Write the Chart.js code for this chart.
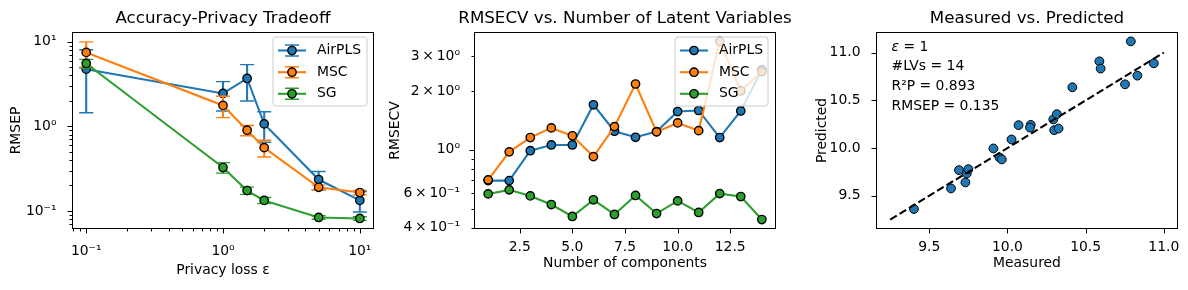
<!DOCTYPE html>
<html>
<head>
<meta charset="utf-8">
<script src="https://cdn.jsdelivr.net/npm/chart.js@4/dist/chart.umd.min.js"></script>
<style>
  body { margin: 0; background: #fff; }
  #wrap { position: relative; width: 1188px; height: 290px; }
  #wrap canvas { position: absolute; left: 0; top: 0; }
</style>
</head>
<body>
<div id="wrap">
  <canvas id="c1" width="1188" height="290"></canvas>
  <canvas id="c2" width="1188" height="290"></canvas>
  <canvas id="c3" width="1188" height="290"></canvas>
</div>
<script>
// ---- panel 1: accuracy / privacy ----
const epsilons = [0.1, 1, 1.5, 2, 5, 10];
const airplsRmsep = [4.75, 2.45, 3.69, 1.07, 0.235, 0.133];
const airplsErr   = [3.3, 0.93, 1.69, 0.42, 0.057, 0.036];
const mscRmsep    = [7.5, 1.77, 0.90, 0.56, 0.19, 0.165];
const mscErr      = [2.5, 0.5, 0.125, 0.125, 0.012, 0.01];
const sgRmsep     = [5.55, 0.326, 0.174, 0.133, 0.0836, 0.0813];
const sgErr       = [0.66, 0.046, 0.017, 0.011, 0.004, 0.004];

// ---- panel 2: RMSECV vs components ----
const components = [1, 2, 3, 4, 5, 6, 7, 8, 9, 10, 11, 12, 13, 14];
const airplsCv = [0.697, 0.697, 0.99, 1.06, 1.06, 1.70, 1.245, 1.16, 1.24, 1.57, 1.59, 1.156, 1.58, 2.57];
const mscCv    = [0.703, 0.977, 1.156, 1.295, 1.18, 0.924, 1.315, 2.17, 1.236, 1.373, 1.254, 3.58, 2.0, 2.51];
const sgCv     = [0.596, 0.625, 0.582, 0.526, 0.457, 0.556, 0.468, 0.585, 0.473, 0.549, 0.479, 0.598, 0.578, 0.441];

// ---- panel 3: measured vs predicted ----
const measured  = [9.402, 9.639, 9.690, 9.731, 9.740, 9.750, 9.910, 9.949, 9.964, 10.026, 10.071, 10.149,
                   10.144, 10.293, 10.316, 10.299, 10.327, 10.415, 10.588, 10.596, 10.752, 10.789, 10.831, 10.936];
const predicted = [9.361, 9.577, 9.769, 9.640, 9.734, 9.779, 9.996, 9.902, 9.881, 10.090, 10.240, 10.243,
                   10.215, 10.300, 10.355, 10.187, 10.205, 10.637, 10.909, 10.833, 10.668, 11.118, 10.759, 10.888];
const identityLine = [9.25, 11];
const statLines = ['#LVs = 14', 'R\u00b2P = 0.893', 'RMSEP = 0.135'];

// ---- tick labels ----
const p1XTicks = [0.1, 1, 10];
const p1XLabels = ['10\u207b\u00b9', '10\u2070', '10\u00b9'];
const p1YTicks = [0.1, 1, 10];
const p1YLabels = ['10\u207b\u00b9', '10\u2070', '10\u00b9'];
const p2XTicks = [2.5, 5, 7.5, 10, 12.5];
const p2XLabels = ['2.5', '5.0', '7.5', '10.0', '12.5'];
const p2YTicks = [0.4, 0.6, 1, 2, 3];
const p2YLabels = ['4\u2009\u00d7\u200910\u207b\u00b9', '6\u2009\u00d7\u200910\u207b\u00b9', '10\u2070',
                   '2\u2009\u00d7\u200910\u2070', '3\u2009\u00d7\u200910\u2070'];
const p3XTicks = [9.5, 10, 10.5, 11];
const p3XLabels = ['9.5', '10.0', '10.5', '11.0'];
const p3YTicks = [9.5, 10, 10.5, 11];
const p3YLabels = ['9.5', '10.0', '10.5', '11.0'];

const FONT = "'DejaVu Sans', sans-serif";
const BLUE = '#1f77b4', ORANGE = '#ff7f0e', GREEN = '#2ca02c';
Chart.defaults.font.family = FONT;
Chart.defaults.color = '#000';

// log minor tick positions (2..9 x 10^k) inside a range
function logMinors(min, max) {
  const out = [];
  for (let k = -3; k <= 3; k++) for (let m = 2; m <= 9; m++) {
    const v = m * Math.pow(10, k);
    if (v >= min && v <= max) out.push(v);
  }
  return out;
}

const pts = (xs, ys) => xs.map((x, i) => ({x, y: ys[i]}));

function axis(type, min, max, ticks, labels, isX, size, pad, title, titlePad) {
  return {
    type, min, max,
    grid: {display: false}, border: {display: false},
    afterBuildTicks: s => { s.ticks = ticks.map(v => ({value: v})); },
    afterFit: s => { if (isX) s.height = size; else s.width = size; },
    ticks: {autoSkip: false, maxRotation: 0, padding: pad, color: '#000',
            font: {size: 13.9}, callback: (v, i) => labels[i]},
    title: {display: true, text: title, color: '#000', font: {size: 13.9}, padding: titlePad}
  };
}

function lineSet(label, data, color, order, err) {
  return {label, data, errorBars: err, borderColor: color, backgroundColor: color,
          pointBackgroundColor: color, pointBorderColor: '#000', pointBorderWidth: 1.4,
          pointRadius: 4.17, borderWidth: 2.08, tension: 0, order};
}

// frame, tick marks, error bars, titles, legends
const decor = {
  id: 'decor',
  beforeDatasetDraw(chart, args) {
    const ds = chart.data.datasets[args.index];
    if (!ds.errorBars) return;
    const ctx = chart.ctx, ys = chart.scales.y;
    ctx.save();
    ctx.strokeStyle = ds.borderColor;
    args.meta.data.forEach((pt, i) => {
      const v = ds.data[i].y, e = ds.errorBars[i];
      const y1 = ys.getPixelForValue(v + e), y2 = ys.getPixelForValue(v - e);
      ctx.lineWidth = 2.08;
      ctx.beginPath(); ctx.moveTo(pt.x, y1); ctx.lineTo(pt.x, y2); ctx.stroke();
      ctx.lineWidth = 1.4;
      ctx.beginPath();
      ctx.moveTo(pt.x - 7, y1); ctx.lineTo(pt.x + 7, y1);
      ctx.moveTo(pt.x - 7, y2); ctx.lineTo(pt.x + 7, y2);
      ctx.stroke();
    });
    ctx.restore();
  },
  afterDatasetsDraw(chart, args, o) {
    const {ctx, chartArea: a} = chart;
    const xs = chart.scales.x, ys = chart.scales.y;
    ctx.save();
    ctx.strokeStyle = '#000';
    ctx.lineWidth = 1;
    ctx.strokeRect(a.left, a.top, a.right - a.left, a.bottom - a.top);
    const tx = (vals, len) => {
      ctx.beginPath();
      vals.forEach(v => {
        const x = Math.round(xs.getPixelForValue(v)) + 0.5;
        ctx.moveTo(x, a.bottom); ctx.lineTo(x, a.bottom + len);
      });
      ctx.stroke();
    };
    const ty = (vals, len) => {
      ctx.beginPath();
      vals.forEach(v => {
        const y = Math.round(ys.getPixelForValue(v)) + 0.5;
        ctx.moveTo(a.left, y); ctx.lineTo(a.left - len, y);
      });
      ctx.stroke();
    };
    tx(o.xMajor, 5); tx(o.xMinor || [], 3);
    ty(o.yMajor, 5); ty(o.yMinor || [], 3);

    // title
    ctx.fillStyle = '#000';
    ctx.font = '16.7px ' + FONT;
    ctx.textAlign = 'center';
    ctx.textBaseline = 'middle';
    ctx.fillText(o.title, (a.left + a.right) / 2, 18.5);

    if (o.legend) drawLegend(chart, o.legend);
    if (o.notes) {
      ctx.textAlign = 'left';
      ctx.font = 'italic 13.9px ' + FONT;
      ctx.fillText('\u03b5', a.left + 15, a.top + 15);
      const w = ctx.measureText('\u03b5').width;
      ctx.font = '13.9px ' + FONT;
      ctx.fillText(' = 1', a.left + 15 + w, a.top + 15);
      const offs = [34, 53.5, 74];
      o.notes.forEach((t, i) => ctx.fillText(t, a.left + 15, a.top + offs[i]));
    }
    ctx.restore();
  }
};

function drawLegend(chart, L) {
  const ctx = chart.ctx;
  ctx.save();
  ctx.beginPath();
  ctx.roundRect(L.x + 0.5, L.y + 0.5, L.w, L.h, 3);
  ctx.fillStyle = 'rgba(255,255,255,0.8)';
  ctx.fill();
  ctx.strokeStyle = '#cccccc';
  ctx.lineWidth = 1;
  ctx.stroke();
  const rows = [L.y + 14, L.y + 35.7, L.y + 57.3];
  const x0 = L.x + 5.5, x1 = L.x + 33.5, mx = (x0 + x1) / 2;
  chart.data.datasets.filter(d => d.label).forEach((d, i) => {
    const y = rows[i];
    ctx.strokeStyle = d.borderColor;
    ctx.lineWidth = 2.08;
    ctx.beginPath(); ctx.moveTo(x0, y); ctx.lineTo(x1, y); ctx.stroke();
    if (L.errorBars) {
      ctx.beginPath(); ctx.moveTo(mx, y - 5.5); ctx.lineTo(mx, y + 5.5); ctx.stroke();
      ctx.lineWidth = 1.4;
      ctx.beginPath();
      ctx.moveTo(mx - 7, y - 5.5); ctx.lineTo(mx + 7, y - 5.5);
      ctx.moveTo(mx - 7, y + 5.5); ctx.lineTo(mx + 7, y + 5.5);
      ctx.stroke();
    }
    ctx.beginPath();
    ctx.arc(mx, y, 4.17, 0, Math.PI * 2);
    ctx.fillStyle = d.borderColor; ctx.fill();
    ctx.lineWidth = 1.4; ctx.strokeStyle = '#000'; ctx.stroke();
    ctx.fillStyle = '#000';
    ctx.font = '13.9px ' + FONT;
    ctx.textAlign = 'left';
    ctx.textBaseline = 'middle';
    ctx.fillText(d.label, x1 + 11, y);
  });
  ctx.restore();
}

const base = {responsive: false, animation: false, events: [],
              plugins: {legend: {display: false}, tooltip: {enabled: false}}};

// panel 1
new Chart(document.getElementById('c1'), {
  type: 'line',
  data: {datasets: [
    lineSet('AirPLS', pts(epsilons, airplsRmsep), BLUE, 3, airplsErr),
    lineSet('MSC', pts(epsilons, mscRmsep), ORANGE, 2, mscErr),
    lineSet('SG', pts(epsilons, sgRmsep), GREEN, 1, sgErr)
  ]},
  options: {...base,
    layout: {padding: {left: 0, right: 1188 - 373.5, top: 32.5, bottom: 0}},
    scales: {
      x: axis('logarithmic', 0.0794, 12.59, p1XTicks, p1XLabels, true, 290 - 228.5, 7, 'Privacy loss \u03b5', {top: 0, bottom: 11}),
      y: axis('logarithmic', 0.0619, 12.9, p1YTicks, p1YLabels, false, 72.5, 8, 'RMSEP', {top: 7.6, bottom: 0})
    },
    plugins: {...base.plugins, decor: {
      title: 'Accuracy-Privacy Tradeoff',
      xMajor: p1XTicks, xMinor: logMinors(0.0794, 12.59),
      yMajor: p1YTicks, yMinor: logMinors(0.0619, 12.9),
      legend: {x: 272.5, y: 36.5, w: 94, h: 69, errorBars: true}
    }}
  },
  plugins: [decor]
});

// panel 2
new Chart(document.getElementById('c2'), {
  type: 'line',
  data: {datasets: [
    lineSet('AirPLS', pts(components, airplsCv), BLUE, 3),
    lineSet('MSC', pts(components, mscCv), ORANGE, 2),
    lineSet('SG', pts(components, sgCv), GREEN, 1)
  ]},
  options: {...base,
    layout: {padding: {left: 380, right: 1188 - 775.5, top: 32.5, bottom: 0}},
    scales: {
      x: axis('linear', 0.35, 14.65, p2XTicks, p2XLabels, true, 290 - 228.5, 2.6, 'Number of components', {top: 0, bottom: 18.3}),
      y: axis('logarithmic', 0.3968, 3.976, p2YTicks, p2YLabels, false, 474.5 - 380, 6.5, 'RMSECV', {top: 6.6, bottom: 0})
    },
    plugins: {...base.plugins, decor: {
      title: 'RMSECV vs. Number of Latent Variables',
      xMajor: p2XTicks,
      yMajor: [1], yMinor: [0.4, 0.5, 0.6, 0.7, 0.8, 0.9, 2, 3],
      legend: {x: 674.5, y: 36.5, w: 93, h: 69, errorBars: false}
    }}
  },
  plugins: [decor]
});

// panel 3
new Chart(document.getElementById('c3'), {
  type: 'scatter',
  data: {datasets: [
    {data: pts(identityLine, identityLine), type: 'line', showLine: true, borderColor: '#000',
     borderWidth: 2.08, borderDash: [7.7, 3.3], pointRadius: 0, order: 0},
    {data: pts(measured, predicted), backgroundColor: BLUE, borderColor: '#000', borderWidth: 1,
     pointRadius: 4.4, order: 1}
  ]},
  options: {...base,
    layout: {padding: {left: 805, right: 1188 - 1177.5, top: 32.5, bottom: 0}},
    scales: {
      x: axis('linear', 9.1625, 11.0875, p3XTicks, p3XLabels, true, 290 - 228.5, 2.6, 'Measured', {top: 0, bottom: 18.3}),
      y: axis('linear', 9.157, 11.211, p3YTicks, p3YLabels, false, 876.5 - 805, 8, 'Predicted', {top: 9, bottom: 0})
    },
    plugins: {...base.plugins, decor: {
      title: 'Measured vs. Predicted',
      xMajor: p3XTicks, yMajor: p3YTicks,
      notes: statLines
    }}
  },
  plugins: [decor]
});
</script>
</body>
</html>
